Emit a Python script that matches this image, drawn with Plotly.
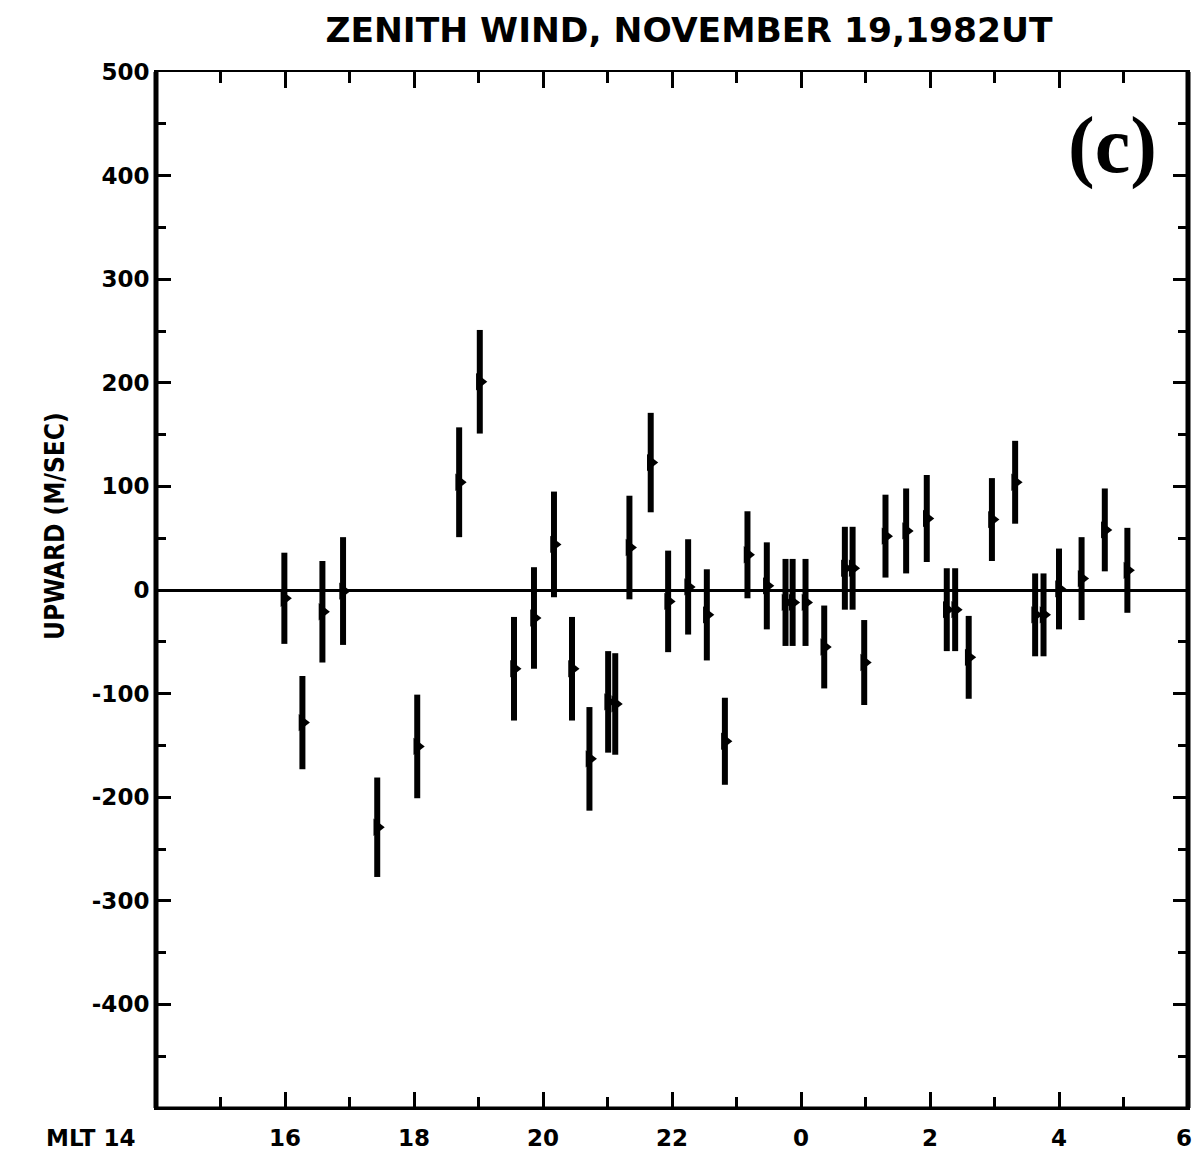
import plotly.graph_objects as go

# Zenith wind measurements: magnetic local time (hours, 24+ = next day),
# upward velocity (m/s) and its uncertainty (m/s)
mlt_hours = [15.99, 16.27, 16.58, 16.90, 17.43, 18.05, 18.70, 19.02, 19.55, 19.86,
             20.17, 20.45, 20.72, 21.01, 21.12, 21.34, 21.67, 21.94, 22.25, 22.54,
             22.82, 23.17, 23.47, 23.76, 23.87, 24.07, 24.36, 24.68, 24.80, 24.98,
             25.31, 25.63, 25.95, 26.26, 26.39, 26.60, 26.96, 27.32, 27.63, 27.76,
             28.00, 28.35, 28.71, 29.06]
upward = [-8, -128, -21, -1, -229, -151, 104, 201, -76, -27,
          44, -76, -163, -108, -110, 41, 123, -11, 3, -24,
          -146, 34, 4, -12, -12, -12, -55, 21, 21, -70,
          52, 57, 69, -19, -19, -65, 68, 104, -24, -24,
          1, 11, 58, 19]
uncertainty = [44, 45, 49, 52, 48, 50, 53, 50, 50, 49,
               51, 50, 50, 49, 49, 50, 48, 49, 46, 44,
               42, 42, 42, 42, 42, 42, 40, 40, 40, 41,
               40, 41, 42, 40, 40, 40, 40, 40, 40, 40,
               39, 40, 40, 41]

x_tickvals = [14, 16, 18, 20, 22, 24, 26, 28, 30]
x_ticktext = ["", "16", "18", "20", "22", "0", "2", "4", ""]
y_tickvals = [500, 400, 300, 200, 100, 0, -100, -200, -300, -400]
y_ticktext = ["500", "400", "300", "200", "100", "0", "-100", "-200", "-300", "-400"]

W, H = 1194, 1152
L, R, T, B = 156, 6, 72, 44
PW, PH = W - L - R, H - T - B


def px_x(p):
    return (p - L) / PW


def px_y(p):
    return 1 - (p - T) / PH


LABEL_FONT = dict(family="DejaVu Sans, Arial", size=23, color="black", weight="bold")

fig = go.Figure()
fig.add_trace(go.Scatter(
    x=mlt_hours, y=upward, mode="markers",
    marker=dict(symbol="triangle-right", size=15, color="black"),
    error_y=dict(type="data", array=uncertainty, visible=True,
                 thickness=6, width=0, color="black"),
    showlegend=False,
))

fig.update_layout(
    width=W, height=H,
    margin=dict(l=L, r=R, t=T, b=B, autoexpand=False),
    paper_bgcolor="white", plot_bgcolor="white",
    title=dict(text="ZENITH WIND, NOVEMBER 19,1982UT",
               font=dict(family="DejaVu Sans, Arial", size=34.5, color="black", weight="bold"),
               x=689 / W, xanchor="center", xref="container",
               y=1 - 30 / H, yanchor="middle", yref="container"),
)

fig.update_xaxes(
    range=[14, 30], tickmode="array", tickvals=x_tickvals, ticktext=x_ticktext,
    ticks="inside", ticklen=16, tickwidth=3, tickcolor="black",
    minor=dict(dtick=1, tick0=14, ticks="inside", ticklen=11, tickwidth=3, tickcolor="black"),
    showline=True, linewidth=2, linecolor="black", mirror="allticks",
    showgrid=False, zeroline=False, tickfont=LABEL_FONT, automargin=False,
    ticklabelstandoff=8,
)
fig.update_yaxes(
    range=[-500, 500], tickmode="array", tickvals=y_tickvals, ticktext=y_ticktext,
    ticks="inside", ticklen=15, tickwidth=3, tickcolor="black",
    minor=dict(dtick=50, tick0=0, ticks="inside", ticklen=10, tickwidth=3, tickcolor="black"),
    showline=True, linewidth=2, linecolor="black", mirror="allticks",
    showgrid=False, zeroline=True, zerolinewidth=3, zerolinecolor="black",
    tickfont=LABEL_FONT, automargin=False,
)

# heavier frame on the left, right and bottom edges
for x0, y0, x1, y1, w in [(0, 0, 0, 1, 5), (1, 0, 1, 1, 5), (0, 0, 1, 0, 3)]:
    fig.add_shape(type="line", xref="paper", yref="paper",
                  x0=x0, y0=y0, x1=x1, y1=y1, line=dict(color="black", width=w))

# end labels of the time axis
fig.add_annotation(text="MLT 14", xref="paper", yref="paper",
                   x=px_x(137), y=px_y(1138), xanchor="right", yanchor="middle",
                   showarrow=False, font=LABEL_FONT)
fig.add_annotation(text="6", xref="paper", yref="paper",
                   x=px_x(1184), y=px_y(1138), xanchor="center", yanchor="middle",
                   showarrow=False, font=LABEL_FONT)

fig.add_annotation(text="UPWARD (M/SEC)", xref="paper", yref="paper",
                   x=px_x(55), y=px_y(526), xanchor="center", yanchor="middle",
                   textangle=-90, showarrow=False,
                   font=dict(family="Liberation Sans Narrow, DejaVu Sans Condensed, Arial",
                             size=26, color="black", weight="bold"))
fig.add_annotation(text="(c)", xref="paper", yref="paper",
                   x=px_x(1112), y=px_y(145), xanchor="center", yanchor="middle",
                   showarrow=False,
                   font=dict(family="Liberation Serif, Times New Roman, serif",
                             size=80, color="black", weight="bold"))

fig.write_html("out.html")
